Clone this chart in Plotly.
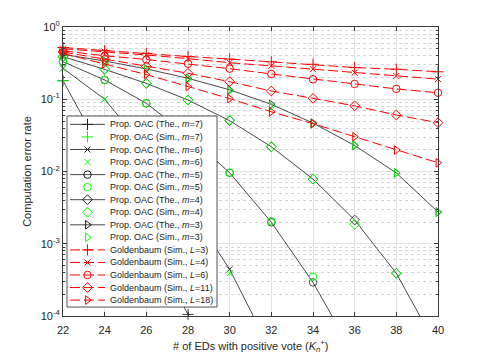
import plotly.graph_objects as go

# number of EDs with positive vote
x_ed = [22, 24, 26, 28, 30, 32, 34, 36, 38, 40]

# Prop. OAC, theoretical (black lines) and simulated (green markers)
the_m7 = [0.181, 0.0158, 0.00126, 0.000105, 5.0e-6, None, None, None, None, None]
sim_m7 = [0.180, 0.0160, 0.00130, None, None, None, None, None, None, None]
the_m6 = [0.268, 0.100, 0.0200, 0.00331, 0.000443, 3.2e-5, None, None, None, None]
sim_m6 = [0.268, 0.100, 0.0200, 0.00330, 0.000390, None, None, None, None, None]
the_m5 = [0.331, 0.185, 0.0879, 0.0316, 0.00960, 0.00198, 0.000292, 2.8e-5, None, None]
sim_m5 = [0.330, 0.185, 0.0880, 0.0320, 0.00960, 0.00205, 0.000350, None, None, None]
the_m4 = [0.389, 0.259, 0.166, 0.0977, 0.0505, 0.0220, 0.00787, 0.00213, 0.000390, 3.5e-5]
sim_m4 = [0.388, 0.260, 0.166, 0.0977, 0.0515, 0.0220, 0.00787, 0.00186, 0.000390, None]
the_m3 = [0.417, 0.339, 0.263, 0.195, 0.135, 0.0851, 0.0468, 0.0229, 0.00955, 0.00275]
sim_m3 = [0.410, 0.330, 0.260, 0.190, 0.131, 0.0806, 0.0460, 0.0233, 0.00960, 0.00272]

# Goldenbaum, simulated (red dashed)
gb_L3 = [0.520, 0.470, 0.430, 0.390, 0.360, 0.330, 0.305, 0.275, 0.260, 0.240]
gb_L4 = [0.500, 0.455, 0.410, 0.365, 0.320, 0.290, 0.260, 0.233, 0.210, 0.190]
gb_L6 = [0.470, 0.400, 0.355, 0.310, 0.265, 0.224, 0.189, 0.163, 0.139, 0.123]
gb_L11 = [0.450, 0.360, 0.285, 0.229, 0.175, 0.130, 0.103, 0.081, 0.0605, 0.0474]
gb_L18 = [0.430, 0.310, 0.220, 0.150, 0.102, 0.067, 0.046, 0.0303, 0.0198, 0.0132]

y_ticks = [1e-4, 1e-3, 1e-2, 1e-1, 1]
y_ticktext = ["10<sup>-4</sup>", "10<sup>-3</sup>", "10<sup>-2</sup>", "10<sup>-1</sup>", "10<sup>0</sup>"]

BLACK = "#1a1a1a"
GREEN = "#00ff00"
RED = "#ff0000"
FONT = "Liberation Sans, Arial, sans-serif"
YMIN = 1e-4

prop = [
    (7, the_m7, sim_m7, "cross-thin-open"),
    (6, the_m6, sim_m6, "x-thin-open"),
    (5, the_m5, sim_m5, "circle-open"),
    (4, the_m4, sim_m4, "diamond-open"),
    (3, the_m3, sim_m3, "triangle-right-open"),
]
gold = [
    (3, gb_L3, "cross-thin-open"),
    (4, gb_L4, "x-thin-open"),
    (6, gb_L6, "circle-open"),
    (11, gb_L11, "diamond-open"),
    (18, gb_L18, "triangle-right-open"),
]


def visible(vals):
    # markers only where the point lies inside the y range (markers are not clipped)
    return [v if v is not None and v >= YMIN else None for v in vals]


def msize(sym):
    if sym.startswith("cross"):
        return 8
    if sym.startswith("x-"):
        return 6
    return 7.5


fig = go.Figure()

for m, the, sim, sym in prop:
    fig.add_trace(go.Scatter(x=x_ed, y=the, mode="lines",
                             line=dict(color=BLACK, width=0.8), hoverinfo="skip"))
    fig.add_trace(go.Scatter(x=x_ed, y=visible(the), mode="markers", cliponaxis=False,
                             marker=dict(symbol=sym, size=msize(sym), color=BLACK,
                                         line=dict(color=BLACK, width=0.8))))
    fig.add_trace(go.Scatter(x=x_ed, y=visible(sim), mode="markers", cliponaxis=False,
                             marker=dict(symbol=sym, size=msize(sym), color=GREEN,
                                         line=dict(color=GREEN, width=1))))

for L, vals, sym in gold:
    fig.add_trace(go.Scatter(x=x_ed, y=vals, mode="lines+markers", cliponaxis=False,
                             line=dict(color=RED, width=1, dash="10px,4px"),
                             marker=dict(symbol=sym, size=msize(sym), color=RED,
                                         line=dict(color=RED, width=1))))

# hand-built legend on an overlaid [0,1] x [0,1] frame (plotly's legend rows are too tall)
lx0, lx1, ly0, ly1 = 0.0107, 0.4107, 0.031, 0.692
row0, row_step = 0.663, 0.04343
s0, s1, smid, tx = 0.0187, 0.112, 0.0653, 0.1208

fig.add_trace(go.Scatter(x=[lx0, lx1, lx1, lx0, lx0], y=[ly0, ly0, ly1, ly1, ly0],
                         xaxis="x2", yaxis="y2", mode="lines", fill="toself",
                         fillcolor="white", line=dict(color="#262626", width=0.8),
                         hoverinfo="skip"))

entries = []
for m, the, sim, sym in prop:
    entries.append((f"Prop. OAC (The., <i>m</i>={m})", sym, BLACK, "solid", True))
    entries.append((f"Prop. OAC (Sim., <i>m</i>={m})", sym, GREEN, None, False))
for L, vals, sym in gold:
    entries.append((f"Goldenbaum (Sim., <i>L</i>={L})", sym, RED, "10px,4px", True))

annotations = []
for i, (label, sym, col, dash, has_line) in enumerate(entries):
    yy = row0 - i * row_step
    if has_line:
        fig.add_trace(go.Scatter(x=[s0, s1], y=[yy, yy], xaxis="x2", yaxis="y2", mode="lines",
                                 line=dict(color=col, width=0.8 if col == BLACK else 1, dash=dash),
                                 hoverinfo="skip"))
    fig.add_trace(go.Scatter(x=[smid], y=[yy], xaxis="x2", yaxis="y2", mode="markers",
                             marker=dict(symbol=sym, size=msize(sym), color=col,
                                         line=dict(color=col, width=1)),
                             hoverinfo="skip"))
    annotations.append(dict(x=tx, y=yy, xref="x2", yref="y2", text=label, showarrow=False,
                            xanchor="left", yanchor="middle",
                            font=dict(family=FONT, size=9, color="#1a1a1a")))

# x-axis title as an annotation: the axis title is held inside the bottom margin
annotations.append(dict(x=0.5, y=0, xref="paper", yref="paper", yshift=-30,
                        text="# of EDs with positive vote (<i>K</i><sub><i>n</i></sub><sup>+</sup>)",
                        showarrow=False, xanchor="center", yanchor="middle",
                        font=dict(family=FONT, size=11, color="#262626")))

axis_common = dict(
    showline=True, linecolor="#3a3a3a", linewidth=1, mirror="allticks",
    ticks="inside", ticklen=4, tickcolor="#3a3a3a", tickwidth=0.8,
    showgrid=True, gridcolor="#e3e3e3", gridwidth=1, zeroline=False,
    automargin=False,
    tickfont=dict(family=FONT, size=11, color="#262626"),
)

# the page body has an 8px margin, so the figure is 16px smaller than the window
fig.update_layout(
    template="none",
    width=469, height=347,
    margin=dict(l=55, r=39, t=19, b=39),
    paper_bgcolor="white", plot_bgcolor="white",
    showlegend=False,
    font=dict(family=FONT, size=11, color="#262626"),
    xaxis=dict(**axis_common, range=[22, 40], tickvals=x_ed, ticklabelstandoff=4),
    yaxis=dict(
        **axis_common,
        type="log", range=[-4, 0],
        tickvals=y_ticks, ticktext=y_ticktext,
        minor=dict(ticks="inside", ticklen=2, tickcolor="#3a3a3a",
                   tickvals=[k * 10 ** e for e in range(-4, 0) for k in range(2, 10)],
                   showgrid=True, gridcolor="#d6d6d6", griddash="dot", gridwidth=1),
        title=dict(text="Computation error rate", standoff=6,
                   font=dict(family=FONT, size=11, color="#262626")),
    ),
    xaxis2=dict(overlaying="x", range=[0, 1], visible=False, fixedrange=True),
    yaxis2=dict(overlaying="y", range=[0, 1], visible=False, fixedrange=True),
    annotations=annotations,
)

fig.write_html("out.html")
